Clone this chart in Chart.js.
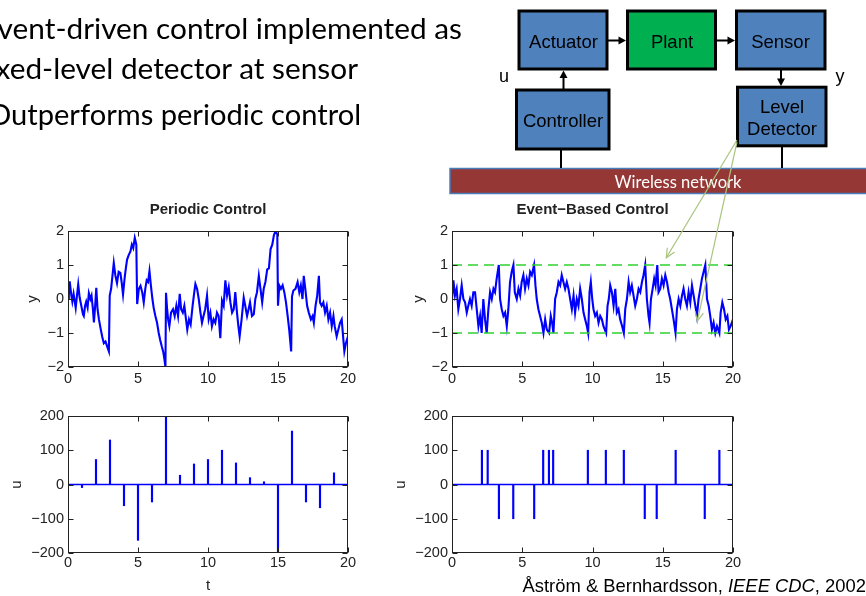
<!DOCTYPE html>
<html>
<head>
<meta charset="utf-8">
<script src="https://cdn.jsdelivr.net/npm/chart.js@4.4.1/dist/chart.umd.min.js"></script>
<style>
  html, body { margin: 0; padding: 0; background: #fff; }
  #page { position: relative; width: 866px; height: 596px; overflow: hidden; background: #fff; }
  canvas { position: absolute; }
  svg { position: absolute; left: 0; top: 0; }
</style>
</head>
<body>
<div id="page">
  <canvas id="periodicY" width="360" height="200" style="left:0;top:195px"></canvas>
  <canvas id="eventY" width="370" height="200" style="left:380px;top:195px"></canvas>
  <canvas id="periodicU" width="360" height="196" style="left:0;top:400px"></canvas>
  <canvas id="eventU" width="370" height="196" style="left:380px;top:400px"></canvas>

  <svg width="866" height="596" font-family="'Liberation Sans', Arial, sans-serif">
    <!-- bullet text -->
    <g font-family="Lato, 'Open Sans', sans-serif" fill="#000" text-anchor="end">
      <text x="462" y="39" font-size="29.8">Event-driven control implemented as</text>
      <text x="358" y="79" font-size="29.8">fixed-level detector at sensor</text>
      <text x="361" y="125" font-size="29.1">Outperforms periodic control</text>
    </g>

    <!-- block diagram -->
    <rect x="450" y="168.5" width="420" height="25" fill="#953735" stroke="#4a7ebb" stroke-width="1.5"/>
    <text x="678" y="187.5" text-anchor="middle" fill="#fff" font-family="Lato, 'Open Sans', sans-serif" font-size="16.5">Wireless network</text>

    <g stroke="#000" stroke-width="2" fill="none">
      <line x1="561" y1="150" x2="561" y2="168"/>
      <line x1="782" y1="147" x2="782" y2="168"/>
      <line x1="563.5" y1="89" x2="563.5" y2="76"/>
      <line x1="608" y1="40.5" x2="620" y2="40.5"/>
      <line x1="717" y1="40.5" x2="729" y2="40.5"/>
      <line x1="781" y1="70" x2="781" y2="80"/>
    </g>
    <g fill="#000">
      <polygon points="563.5,70.5 559.5,78 567.5,78"/>
      <polygon points="626,40.5 618.5,36.5 618.5,44.5"/>
      <polygon points="735,40.5 727.5,36.5 727.5,44.5"/>
      <polygon points="781,86 777,78.5 785,78.5"/>
    </g>

    <g stroke="#000" stroke-width="3">
      <rect x="519" y="11" width="88" height="58" fill="#4f81bd"/>
      <rect x="627.5" y="11" width="88" height="58" fill="#00b050"/>
      <rect x="736.5" y="11" width="88.5" height="58" fill="#4f81bd"/>
      <rect x="516.5" y="90" width="92.5" height="59" fill="#4f81bd"/>
      <rect x="737.5" y="87.2" width="88.5" height="58.6" fill="#4f81bd"/>
    </g>
    <g font-size="18.5" fill="#000" text-anchor="middle">
      <text x="563.5" y="47.5">Actuator</text>
      <text x="672" y="47.5">Plant</text>
      <text x="780.5" y="47.5">Sensor</text>
      <text x="563" y="127">Controller</text>
      <text x="782" y="113">Level</text>
      <text x="782" y="135">Detector</text>
    </g>
    <g font-size="18" fill="#000" text-anchor="middle">
      <text x="504" y="82">u</text>
      <text x="840" y="82">y</text>
    </g>

    <!-- annotation arrows -->
    <g stroke="#a9c47f" stroke-width="1.2" fill="none">
      <line x1="737" y1="140" x2="666.3" y2="257.7"/>
      <polyline points="674.6,252.1 666.3,257.7 667.3,247.8"/>
      <line x1="737" y1="142" x2="697.3" y2="321"/>
      <polyline points="703.4,313.1 697.3,321 695.1,311.2"/>
    </g>

    <!-- citation -->
    <text x="866" y="591.5" text-anchor="end" font-size="18.4" fill="#000">Åström &amp; Bernhardsson, <tspan font-style="italic">IEEE CDC</tspan>, 2002</text>
  </svg>
</div>

<script>
// time axis
var xMin = 0
var xMax = 20
var xStep = 5

// periodic control: output y(t)
var periodicT = [0.00, 0.06, 0.12, 0.24, 0.31, 0.40, 0.55, 0.64, 0.73, 0.83, 0.95, 1.07, 1.13, 1.22, 1.30, 1.40, 1.49, 1.60, 1.68, 1.78,
    1.85, 1.94, 2.02, 2.11, 2.21, 2.32, 2.44, 2.56, 2.68, 2.80, 2.92, 2.98, 3.08, 3.18, 3.27, 3.38, 3.50, 3.62, 3.74, 3.83,
    3.93, 4.04, 4.13, 4.22, 4.34, 4.46, 4.56, 4.66, 4.77, 4.88, 4.94, 5.06, 5.18, 5.30, 5.41, 5.52, 5.62, 5.72, 5.82, 5.92,
    6.03, 6.12, 6.24, 6.36, 6.48, 6.58, 6.70, 6.80, 6.88, 6.96, 7.00, 7.08, 7.15, 7.24, 7.36, 7.50, 7.62, 7.74, 7.86, 7.98,
    8.08, 8.20, 8.31, 8.43, 8.52, 8.64, 8.76, 8.90, 9.02, 9.10, 9.22, 9.34, 9.46, 9.57, 9.68, 9.80, 9.93, 10.05, 10.17, 10.28,
    10.40, 10.52, 10.64, 10.76, 10.88, 11.00, 11.12, 11.24, 11.36, 11.48, 11.60, 11.72, 11.84, 11.95, 12.07, 12.17, 12.26, 12.40, 12.55, 12.66,
    12.79, 12.90, 13.00, 13.14, 13.27, 13.38, 13.50, 13.63, 13.75, 13.87, 13.98, 14.10, 14.23, 14.35, 14.47, 14.59, 14.71, 14.83, 14.95, 15.00,
    15.09, 15.21, 15.33, 15.45, 15.57, 15.69, 15.80, 15.94, 16.00, 16.10, 16.25, 16.40, 16.52, 16.63, 16.75, 16.84, 16.95, 17.08, 17.20, 17.35,
    17.47, 17.56, 17.68, 17.80, 17.92, 18.00, 18.12, 18.24, 18.36, 18.48, 18.60, 18.72, 18.84, 18.96, 19.05, 19.19, 19.31, 19.43, 19.55, 19.67,
    19.74, 19.85, 20.00]
var periodicY = [0.0, 0.13, 0.52, 0.1, -0.08, 0.15, -0.26, 0.1, 0.43, 0.05, -0.2, -0.45, -0.5, -0.2, -0.08, -0.25, 0.17, 0.0, 0.1, -0.3,
    -0.69, -0.2, 0.33, -0.3, -0.6, -0.85, -1.1, -1.3, -1.25, -1.4, -1.54, 0.1, 0.3, 0.7, 1.06, 0.7, 0.47, 0.8, 0.77, 0.5,
    0.13, 0.6, 0.9, 1.16, 1.3, 1.4, 1.6, 1.5, 1.8, 1.6, -0.15, 0.3, 0.39, 0.2, -0.1, 0.3, 0.55, 0.5, 0.82, 0.4,
    0.0, -0.26, -0.5, -0.7, -1.0, -1.2, -1.4, -1.55, -1.75, -2.0, 0.18, -0.3, -0.6, -0.8, -0.4, -0.3, -0.5, -0.2, -0.5, 0.15,
    -0.3, -0.4, -0.2, -0.6, -0.9, -0.6, -0.75, -0.2, 0.2, 0.44, 0.3, 0.0, -0.4, -0.7, -0.5, -0.3, 0.1, -0.6, -0.4, -0.8,
    -0.6, -0.7, -0.4, -0.5, -1.15, -0.05, -0.2, 0.55, 0.1, 0.35, -0.1, -0.4, -0.3, 0.2, -0.4, -0.8, -1.1, -0.6, 0.04, -0.2,
    -0.5, -0.3, -0.1, -0.5, -0.45, 0.0, 0.2, 0.68, 0.3, -0.1, 0.3, 0.5, 0.87, 0.9, 1.47, 1.6, 1.88, 2.0, 1.9, -0.2,
    0.4, 0.3, 0.4, 0.2, -0.1, -0.5, -0.9, -1.54, 0.08, 0.25, 0.3, 0.5, 0.2, 0.4, 0.0, 0.68, 0.3, -0.2, -0.4, -0.6,
    -0.5, -0.7, -0.2, 0.1, 0.68, -0.1, -0.2, -0.1, -0.4, -0.2, -0.6, -0.4, -0.8, -0.5, -0.8, -1.1, -0.9, -0.7, -0.6, -1.2,
    -1.54, -1.3, -1.1]

// event-based control: output y(t)
var eventT = [0.00, 0.10, 0.21, 0.33, 0.45, 0.57, 0.69, 0.81, 0.93, 1.05, 1.16, 1.28, 1.40, 1.52, 1.64, 1.76, 1.88, 2.00, 2.11, 2.23,
    2.35, 2.47, 2.59, 2.71, 2.83, 2.95, 3.06, 3.18, 3.33, 3.42, 3.54, 3.66, 3.78, 3.90, 4.01, 4.13, 4.25, 4.37, 4.47, 4.61,
    4.73, 4.85, 4.96, 5.08, 5.20, 5.32, 5.44, 5.56, 5.68, 5.84, 5.94, 6.03, 6.15, 6.27, 6.39, 6.51, 6.63, 6.75, 6.91, 7.03,
    7.13, 7.22, 7.34, 7.46, 7.58, 7.70, 7.81, 7.93, 8.05, 8.17, 8.29, 8.41, 8.53, 8.65, 8.76, 8.88, 9.00, 9.12, 9.24, 9.36,
    9.48, 9.60, 9.69, 9.79, 9.88, 9.98, 10.07, 10.19, 10.31, 10.43, 10.55, 10.67, 10.78, 10.97, 11.07, 11.16, 11.26, 11.38, 11.50, 11.62,
    11.73, 11.85, 11.97, 12.11, 12.23, 12.33, 12.45, 12.57, 12.68, 12.80, 12.92, 13.04, 13.16, 13.28, 13.40, 13.52, 13.63, 13.75, 13.87, 13.99,
    14.06, 14.16, 14.28, 14.39, 14.49, 14.61, 14.70, 14.82, 14.94, 15.06, 15.18, 15.30, 15.42, 15.53, 15.65, 15.77, 15.91, 16.01, 16.13, 16.25,
    16.37, 16.48, 16.60, 16.72, 16.84, 16.96, 17.08, 17.20, 17.32, 17.43, 17.55, 17.67, 17.79, 17.91, 18.03, 18.15, 18.27, 18.38, 18.50, 18.62,
    18.74, 18.86, 19.03, 19.12, 19.24, 19.36, 19.48, 19.60, 19.71, 19.83, 20.00]
var eventY = [0.0, 0.55, 0.1, 0.3, -0.3, 0.0, 0.4, 0.0, -0.1, -0.4, -0.2, 0.0, -0.2, 0.2, 0.2, -0.3, -0.8, -0.5, -1.0, 0.0,
    -0.6, -1.0, -0.3, 0.2, 0.0, 0.3, 0.2, 0.6, 1.0, 0.0, -0.3, -0.5, -0.4, -0.8, -0.3, 0.5, 0.8, 1.0, 0.2, 0.0,
    0.3, 0.1, 0.5, 0.7, 0.3, 0.6, 0.4, 0.8, 0.7, 1.0, 0.4, 0.0, -0.3, -0.5, -0.7, -1.0, -0.6, -0.9, -1.0, -0.5,
    -0.7, -1.0, 0.0, 0.2, 0.5, 0.4, 0.7, 0.5, 0.3, 0.5, 0.3, 0.0, -0.3, 0.1, -0.4, 0.0, -0.2, 0.3, 0.0, -0.4,
    -0.6, -0.8, -1.0, 0.2, 0.5, 0.0, -0.3, -0.5, -0.4, -0.7, -0.5, -0.6, -0.8, -1.0, -0.2, 0.0, 0.4, 0.2, -0.2, 0.3,
    -0.4, -0.3, -0.6, -0.8, -1.0, -0.3, 0.0, 0.5, 0.2, 0.4, 0.1, -0.2, 0.0, 0.3, 0.2, 0.5, 0.7, 1.0, 0.0, -0.5,
    -0.7, 0.0, 0.3, 0.6, 0.4, 1.0, 0.2, 0.3, 0.6, 0.4, 0.7, 0.5, 0.2, 0.0, -0.3, -0.6, -1.0, -0.3, 0.0, -0.2,
    0.1, 0.3, 0.0, -0.2, 0.2, -0.1, 0.4, 0.1, -0.2, -0.5, 0.0, 0.3, 0.6, 0.8, 1.0, 0.0, -0.2, -0.5, -0.9, -0.7,
    -1.0, -0.8, -1.0, -0.4, -0.1, -0.3, -0.6, -0.5, -0.9, -0.8, -0.6]
var eventLevels = [1, -1]

// control signal u(t)
var periodicStemT = [1, 2, 3, 4, 5, 6, 7, 8, 9, 10, 11, 12, 13, 14, 15, 16, 17, 18, 19]
var periodicStemU = [-9, 73, 130, -62, -163, -51, 200, 27, 60, 73, 100, 63, 20, 8, -200, 156, -51, -68, 34]
var eventStemT = [2.13, 2.54, 3.34, 4.36, 5.85, 6.49, 6.90, 7.20, 9.67, 10.95, 12.23, 13.72, 14.57, 15.92, 17.99, 19.03]
var eventStemU = [100, 100, -100, -100, -100, 100, 100, 100, 100, 100, 100, -100, -100, 100, -100, 100]

// axis ranges
var yRange = [-2, 2, 1]
var uRange = [-200, 200, 100]

Chart.defaults.font.family = '"Liberation Sans", Arial, Helvetica, sans-serif'
Chart.defaults.color = '#222'

var BLUE = '#0000ff'

// box round the axes with inward ticks on all four sides
var matlabBox = {
    id: 'matlabBox',
    afterDraw: function (chart) {
        var a = chart.chartArea
        var c = chart.ctx
        var len = 5
        var l = Math.round(a.left) + 0.5, r = Math.round(a.right) - 0.5
        var t = Math.round(a.top) + 0.5, b = Math.round(a.bottom) - 0.5
        c.save()
        c.strokeStyle = '#222'
        c.lineWidth = 1
        c.strokeRect(l, t, r - l, b - t)
        c.beginPath()
        var xs = chart.scales.x, ys = chart.scales.y
        xs.ticks.forEach(function (tk) {
            var px = Math.round(xs.getPixelForValue(tk.value)) + 0.5
            c.moveTo(px, b); c.lineTo(px, b - len)
            c.moveTo(px, t); c.lineTo(px, t + len)
        })
        ys.ticks.forEach(function (tk) {
            var py = Math.round(ys.getPixelForValue(tk.value)) + 0.5
            c.moveTo(l, py); c.lineTo(l + len, py)
            c.moveTo(r, py); c.lineTo(r - len, py)
        })
        c.stroke()
        c.restore()
    }
}

function minus(v) {
    return String(v).replace('-', '\u2212')
}

function points(ts, vs) {
    return ts.map(function (t, i) { return { x: t, y: vs[i] } })
}

function span(v) {
    return [{ x: xMin, y: v }, { x: xMax, y: v }]
}

function xAxis(height, pad, title) {
    var s = {
        type: 'linear', min: xMin, max: xMax, offset: false,
        grid: { display: false, drawTicks: false }, border: { display: false },
        ticks: { stepSize: xStep, padding: pad, font: { size: 14.5 }, maxRotation: 0, autoSkip: false, callback: minus },
        afterFit: function (sc) { sc.height = height }
    }
    if (title) s.title = { display: true, text: title, font: { size: 15 }, padding: { top: 0, bottom: 1 } }
    return s
}

function yAxis(range, width, title, titlePad) {
    return {
        type: 'linear', min: range[0], max: range[1],
        grid: { display: false, drawTicks: false }, border: { display: false },
        ticks: { stepSize: range[2], padding: 4, font: { size: 14.5 }, autoSkip: false, callback: minus },
        title: { display: true, text: title, font: { size: 15 }, padding: { top: titlePad, bottom: 0 } },
        afterFit: function (sc) { sc.width = width }
    }
}

function options(pad, title, x, y) {
    var o = {
        responsive: false,
        animation: false,
        layout: { padding: pad },
        plugins: { legend: { display: false }, tooltip: { enabled: false }, title: { display: false } },
        scales: { x: x, y: y }
    }
    if (title) {
        o.plugins.title = {
            display: true, text: title, fullSize: false,
            font: { size: 15, weight: 'bold' }, padding: { top: 6, bottom: 12 }
        }
    }
    return o
}

function curve(ts, vs) {
    return { type: 'line', data: points(ts, vs), borderColor: BLUE, borderWidth: 2.1, pointRadius: 0, tension: 0 }
}

function stems(ts, vs) {
    return { type: 'bar', data: points(ts, vs), backgroundColor: BLUE, borderWidth: 0, barThickness: 1.5 }
}

function zeroLine() {
    return { type: 'line', data: span(0), borderColor: BLUE, borderWidth: 1.5, pointRadius: 0 }
}

function levelLine(v) {
    return { type: 'line', data: span(v), borderColor: '#2fd12f', borderWidth: 1.6, borderDash: [10, 6], pointRadius: 0 }
}

new Chart(document.getElementById('periodicY'), {
    type: 'line',
    data: { datasets: [curve(periodicT, periodicY)] },
    options: options({ top: 0, right: 12, left: 0, bottom: 0 }, 'Periodic Control',
        xAxis(28, 3), yAxis(yRange, 68, 'y', 24)),
    plugins: [matlabBox]
})

new Chart(document.getElementById('eventY'), {
    type: 'line',
    data: { datasets: eventLevels.map(levelLine).concat([curve(eventT, eventY)]) },
    options: options({ top: 0, right: 17, left: 0, bottom: 0 }, 'Event\u2212Based Control',
        xAxis(28, 3), yAxis(yRange, 72, 'y', 30)),
    plugins: [matlabBox]
})

new Chart(document.getElementById('periodicU'), {
    type: 'bar',
    data: { datasets: [zeroLine(), stems(periodicStemT, periodicStemU)] },
    options: options({ top: 16, right: 12, left: 0, bottom: 0 }, null,
        xAxis(43, 1, 't'), yAxis(uRange, 68, 'u', 8)),
    plugins: [matlabBox]
})

new Chart(document.getElementById('eventU'), {
    type: 'bar',
    data: { datasets: [zeroLine(), stems(eventStemT, eventStemU)] },
    options: options({ top: 16, right: 17, left: 0, bottom: 0 }, null,
        xAxis(43, 1), yAxis(uRange, 72, 'u', 12)),
    plugins: [matlabBox]
})
</script>
</body>
</html>
